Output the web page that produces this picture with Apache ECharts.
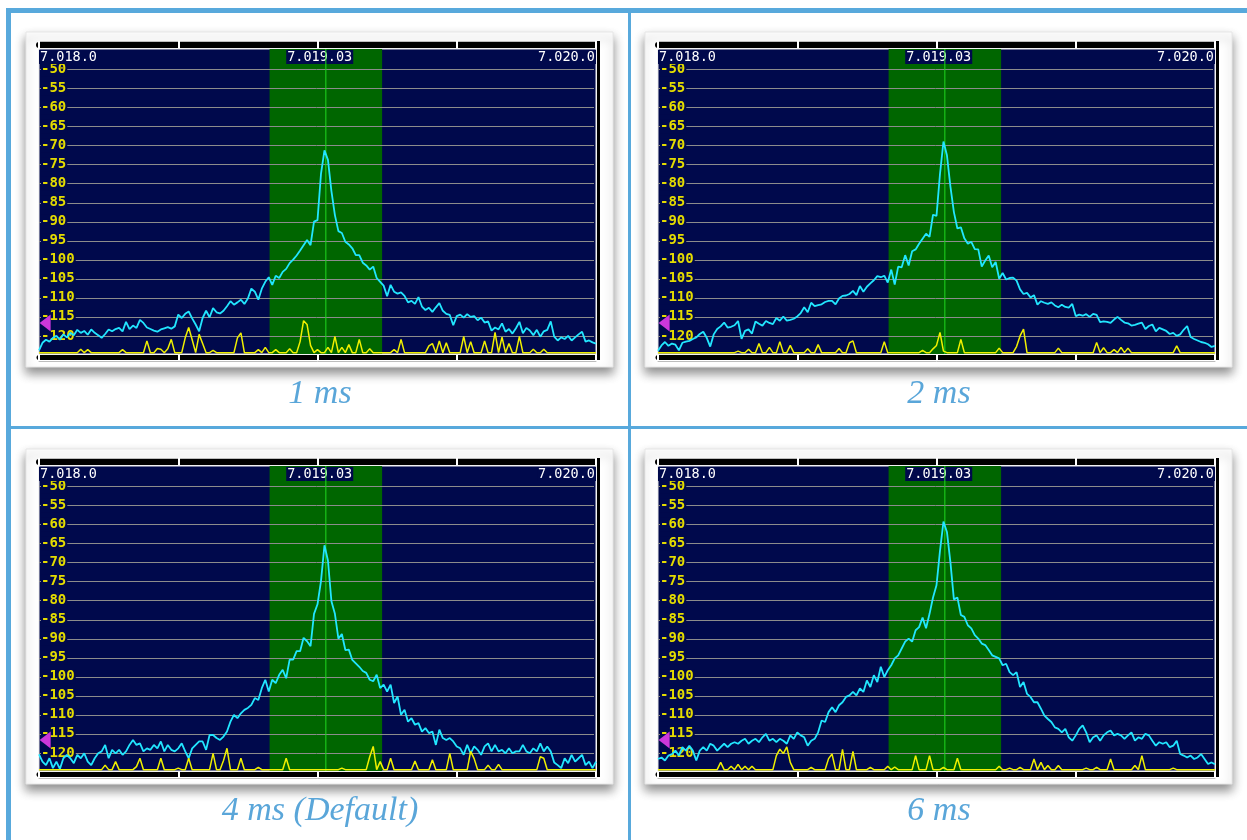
<!DOCTYPE html>
<html><head><meta charset="utf-8">
<script src="https://cdn.jsdelivr.net/npm/echarts@6/dist/echarts.min.js"></script>
<style>html,body{margin:0;padding:0;background:#fff;}#c{width:1247px;height:840px;}</style>
</head><body><div id="c"></div>
<script>
// ---------- data ----------
const B = -124.4;               // yellow trace floor (dBm)
const binHz = 12.5;             // spacing of the spectrum bins (Hz above 7.018.0)
const freqLabels = ['7.018.0', '7.019.03', '7.020.0'];
const freqLabelHz = [0, 1008, 2000];
const tickHz = [0, 500, 1000, 1500, 2000];
const yTicks = [-50, -55, -60, -65, -70, -75, -80, -85, -90, -95, -100, -105, -110, -115, -120];
const yMin = -124.75, yMax = -44.7;
const passbandHz = [828, 1232];
const centerHz = 1030;
const thresholdDb = -116.6;
const markerHz = 22;
const captions = ['1 ms', '2 ms', '4 ms (Default)', '6 ms'];

const cyan1ms = [
-123.8,-121.8,-121,-121.5,-120.5,-120,-121,-119.6,-120.4,-119.2,
-119.8,-118.4,-119.2,-118.7,-119.7,-118.3,-119.2,-119.8,-120.5,-119.5,
-118.3,-118.8,-118.2,-117.9,-118.8,-116.3,-118.2,-117.3,-117.9,-115.8,
-116.6,-117.8,-118.2,-118.6,-118.9,-118.3,-118,-117.7,-118.1,-117.5,
-114.4,-115.3,-114.2,-113.6,-115.4,-117,-118.8,-115.3,-113.4,-115.1,
-112.7,-113.8,-114.1,-113.4,-112.2,-110.9,-111.8,-111.2,-110.5,-111.6,
-110.2,-107.6,-108.4,-110.5,-107.6,-105.8,-104.6,-106.6,-104.2,-104.8,
-103.2,-102.4,-100.9,-100,-98.9,-97.6,-96.2,-94.8,-96.2,-90,
-89.6,-77.5,-71.3,-73.8,-82,-88.3,-92.5,-93,-95.3,-96,
-97,-98.8,-98.8,-100.8,-101.5,-102.6,-101.8,-104.8,-105.8,-106.8,
-109.6,-106.6,-108.4,-108.9,-108.6,-109.5,-111.2,-110.8,-111.6,-109.8,
-112.3,-113.2,-112.6,-113.7,-112.5,-111.4,-113.4,-114.2,-114.5,-117.2,
-114.8,-114.4,-115.2,-114.3,-115,-114.8,-115.9,-115.2,-116.5,-116.2,
-118.6,-117.8,-118.3,-116.7,-118.9,-118.2,-119.4,-118,-116.3,-119.3,
-117.9,-118.6,-119.8,-118.4,-120.2,-118.8,-118.4,-116.2,-120.2,-121.2,
-120.4,-120.8,-120,-121.2,-120.4,-119.6,-118.9,-121.5,-121.2,-121.7,
-122];
const yellow1ms = [
B,B,B,B,B,B,B,B,B,B,
B,B,-123.5,B,-123.6,B,B,B,B,B,
B,B,B,B,-123.6,B,B,B,B,B,
B,-121.3,B,B,-123.3,-123.5,B,-123.4,-120.9,B,
B,B,-120.5,-117.8,-121,B,-119.6,-122,B,B,
-123.8,B,B,B,B,B,B,-120.5,-119.2,B,
B,B,B,-123.6,B,-123,B,B,-123.6,B,
B,B,-123.4,B,B,-121.5,-116,-117,-122.5,B,
-123.6,B,B,-123,B,-120.1,B,-123,B,-122.3,
B,B,-120.9,B,B,-123.4,B,B,B,B,
B,B,-123.6,B,-120.9,B,B,B,B,B,
B,B,-122.6,-122,B,-121.3,B,-121.8,B,B,
B,B,-120.1,B,-121.5,B,B,B,-121.3,B,
B,-119.1,B,-120.3,B,-122,B,B,-120.1,B,
B,B,-123.5,B,B,-123.5,B,B,B,B,
B,B,B,B,B,B,B,B,B,B,
B];

const cyan2ms = [
-123.9,-122.5,-121.6,-122.6,-122,-122.3,-123.8,-121.8,-121.5,-121.3,
-120.8,-120.4,-119.5,-118.9,-120.5,-122.8,-119.6,-118.2,-117.5,-116.5,
-117.8,-117.6,-117.2,-116.1,-120.8,-118.7,-118.3,-119.4,-116.2,-116.8,
-117.3,-116.1,-116.6,-116.9,-115.3,-116,-114.9,-116,-115.8,-115.5,
-114.9,-114,-112.5,-113.8,-111.3,-112.2,-111.9,-111.7,-111.1,-110.8,
-110.8,-111.7,-110.2,-109.5,-109.4,-109,-108.2,-109.3,-106.9,-108.4,
-107.1,-106.2,-105.4,-104.3,-104.6,-104.2,-106,-102.6,-106.5,-101.8,
-102,-98.8,-101.5,-97.8,-97.3,-95.8,-94.5,-93.2,-94,-88.2,
-88.5,-77.5,-69,-72.6,-80.8,-87.5,-91.8,-91.5,-94.4,-95.8,
-95.3,-97.2,-97.3,-101.8,-100.2,-98.9,-102,-100.6,-105,-103.5,
-105.2,-104.8,-104.7,-105.5,-107.8,-109,-108.7,-109.9,-109.3,-111.8,
-110.9,-111.3,-111.6,-111.2,-112,-112.5,-111.8,-112.4,-112.6,-111.6,
-114.8,-114.4,-114.7,-114.3,-115,-114.2,-114.5,-116.4,-116.2,-116.3,
-116.6,-115.7,-115,-115.8,-116.5,-116.7,-117.3,-117.1,-116.8,-116.5,
-118.2,-117.4,-117,-118.8,-117.9,-118.3,-118.7,-119.5,-119.2,-120,
-119.6,-118.4,-117.4,-120.3,-120.8,-121.2,-121.6,-121.8,-122.2,-122.9,
-122.6];
const yellow2ms = [
B,B,B,B,B,B,B,B,B,B,
B,B,B,B,B,B,B,B,B,B,
B,B,B,-124,B,B,-123.5,B,B,-122,
B,B,-123,B,B,-121.5,B,B,-122.5,B,
B,B,B,-123.4,B,B,-122.3,B,B,B,
B,B,-123.3,B,B,-121.8,-121.3,B,B,B,
B,B,B,B,B,-121.5,B,B,B,B,
B,B,B,B,B,B,-123.8,B,B,-123.4,
-122.5,-119.1,-124,B,B,B,B,-120.9,B,B,
B,B,B,B,B,B,B,B,-123.2,B,
B,B,B,-122.8,-120,-118.2,B,B,B,B,
B,B,B,B,B,-123.2,B,B,B,B,
B,B,B,B,B,B,-121.7,B,-123.1,B,
B,-123.6,B,-123,B,-123.2,B,B,B,B,
B,B,B,B,B,B,B,B,B,-122.6,
B,B,B,B,B,B,B,B,B,B,
B];

const cyan4ms = [
-120.4,-122.3,-123.2,-121.4,-124,-122.3,-124.2,-121.4,-120.5,-121.4,
-122.7,-120.5,-121.4,-120.1,-122.3,-123.2,-121.4,-120.1,-119.6,-117.9,
-121.4,-119.2,-120.1,-119.2,-120.5,-119.6,-117.9,-116.6,-117.9,-117.5,
-119.6,-118.8,-119.2,-117.9,-118.8,-117,-119.6,-117.9,-119.2,-119.6,
-118.8,-117.5,-119.6,-121.4,-118.8,-117.9,-117,-117,-119.2,-115.3,
-115.3,-116.1,-116.6,-115.7,-114.4,-111.8,-110,-110.9,-109.6,-108.7,
-108.2,-107.4,-105.6,-106.1,-103,-100.8,-103.9,-100.8,-101.7,-99.5,
-98.2,-100.4,-95.5,-95.5,-93.3,-93.3,-89.8,-90.7,-92,-83.5,
-81,-74.9,-65.5,-69.5,-80.2,-83.5,-90,-88.8,-93,-92.9,
-95.6,-96.5,-97.4,-98.5,-99,-100.8,-101.2,-99.5,-103,-102.1,
-103.9,-102.1,-106.9,-105.2,-110,-108.7,-111.8,-110.9,-112.6,-112.2,
-114.4,-113.5,-114.8,-114.4,-117.9,-113.9,-116.1,-116.6,-116.1,-117,
-118.3,-118.8,-120.5,-117.9,-120.1,-118.3,-119.2,-120.5,-118.3,-117.5,
-119.6,-117.9,-119.6,-119.2,-120.1,-118.8,-120.1,-119.6,-119.6,-117.9,
-119.6,-120.1,-118.8,-119.6,-117.5,-119.6,-118.3,-119.6,-122.5,-123.2,
-124,-121.4,-122.7,-120.5,-122.3,-121.4,-120.5,-123.2,-122.3,-124,
-122.3];
const yellow4ms = [
B,B,B,B,B,B,B,B,B,B,
B,B,B,B,B,B,B,B,B,-123.2,
B,B,-122.3,B,B,B,B,B,-123.6,-121.4,
B,B,B,B,B,-121.4,B,B,B,B,
-124,B,B,-121.4,B,B,B,B,B,B,
-120.1,B,B,-122,-118.8,B,B,B,-121.4,B,
B,B,B,-123.8,B,B,B,B,B,B,
B,-121.4,B,B,B,B,B,B,B,B,
B,B,B,B,B,B,B,-124,B,B,
B,B,B,B,B,-121,-118.3,B,-122.3,B,
B,-121.4,B,B,B,B,B,B,-122.1,B,
B,B,B,-121.8,B,B,B,B,-120.1,B,
B,B,B,B,-119.6,-121.5,B,B,B,-123.2,
B,B,-123,B,B,B,B,B,B,B,
B,B,B,B,-121,-121.4,B,B,B,B,
B,B,B,B,B,B,B,B,B,B,
B];

const cyan6ms = [
-121.6,-121.2,-122,-120.7,-120.3,-119.4,-120.7,-118.5,-119.4,-118.1,
-119.4,-122,-119.4,-118.5,-119.4,-117.6,-118.1,-119.4,-118.5,-117.6,
-118.5,-117.6,-117.2,-117.6,-116.8,-116.3,-117.6,-116.8,-116.3,-117.2,
-115.9,-115,-116.8,-116.3,-117.2,-116.3,-116.8,-117.6,-115.4,-116.3,
-114.6,-115.4,-115.9,-118.1,-116.8,-116.3,-114.6,-111.5,-111.9,-109.3,
-108,-109.3,-107.5,-106.7,-105.3,-104.9,-104,-104.9,-103.1,-104,
-101,-102.7,-99.6,-101.4,-97.4,-100.1,-98.3,-97,-95.2,-94.4,
-92.6,-90.8,-90,-90.8,-87.8,-87,-84.5,-87.3,-83.5,-79.2,
-76,-67,-59.3,-62,-70,-79.7,-79.2,-83.8,-84.3,-86.5,
-87.3,-89.1,-90,-91.3,-91.7,-93,-94.4,-94.8,-95.2,-97,
-96.6,-98.8,-99.6,-98.8,-102.7,-101.4,-104.5,-105.3,-106.7,-106.7,
-108.4,-110.2,-111.1,-111.9,-113.3,-113.7,-114.6,-113.7,-115.9,-116.8,
-115.4,-113.7,-112.8,-114.6,-117.2,-115.9,-115.4,-116.8,-115.4,-114.6,
-114.1,-115.4,-115,-115.4,-116.3,-115.4,-114.6,-116.8,-115.9,-116.3,
-115,-115.4,-116.8,-118.1,-117.2,-117.6,-117.2,-118.5,-118.1,-116.8,
-120.3,-120.7,-121.2,-120.7,-121.6,-121.2,-120.3,-121.6,-122.9,-122.5,
-123];
const yellow6ms = [
B,B,B,B,B,B,B,B,B,B,
B,B,B,B,B,B,B,B,-122.5,B,
B,-123.5,B,-123,B,-123.5,B,-123.5,B,B,
B,B,B,B,-120.7,-119,-120.2,-118.4,-122.5,B,
B,B,B,B,-123.8,B,B,B,B,-121.5,
-120.3,B,B,-119.1,B,B,-119.6,B,B,B,
B,-123.8,B,B,B,B,-123.5,B,-123.7,B,
B,B,B,B,-120.7,B,B,B,-120.7,B,
B,B,-123.8,B,B,B,-121.4,B,B,B,
B,B,B,B,B,B,B,B,-123.5,B,
B,-124,B,B,-123.8,B,B,B,-121.6,B,
-122.5,B,-123.3,B,B,-123.3,B,B,B,B,
B,B,B,-124,B,B,-123.8,B,B,B,
-121.6,B,B,B,B,B,B,-123.3,B,-120.7,
B,B,B,B,B,B,B,B,-124,B,
B,B,B,B,B,B,B,B,B,B,
B];

const cyanTraces = [cyan1ms, cyan2ms, cyan4ms, cyan6ms];
const yellowTraces = [yellow1ms, yellow2ms, yellow4ms, yellow6ms];

// ---------- layout / style ----------
const panelLeft = [39, 658, 39, 658];
const panelTop = [49, 49, 466, 466];
const plotW = 557, plotH = 305;
const NAVY = '#00094c', BLUE = '#58a9dc';
const MONO = '"DejaVu Sans Mono", monospace';

const grid = [], xAxis = [], yAxis = [], series = [], graphic = [];

graphic.push(
  {type:'rect', z:-30, shape:{x:6, y:8, width:1241, height:5}, style:{fill:BLUE}},
  {type:'rect', z:-30, shape:{x:6, y:8, width:5, height:832}, style:{fill:BLUE}},
  {type:'rect', z:-30, shape:{x:628, y:8, width:3, height:832}, style:{fill:BLUE}},
  {type:'rect', z:-30, shape:{x:6, y:426, width:1241, height:3}, style:{fill:BLUE}}
);

for (let p = 0; p < 4; p++) {
  const L = panelLeft[p], T = panelTop[p];
  graphic.push({type:'rect', z:-25, shape:{x:L-13, y:T-17, width:587, height:335},
    style:{fill:'#fff', stroke:'#e6e6e6', lineWidth:1, shadowBlur:10, shadowOffsetY:6, shadowColor:'rgba(0,0,0,0.45)'}});
  graphic.push({type:'rect', z:-9, shape:{x:L+plotW+1, y:T-8, width:3, height:plotH+14}, style:{fill:'#000'}});
  graphic.push({type:'text', z:10, x:L+281, y:T+345,
    style:{text:captions[p], fill:'#5aa6d9', font:'italic 34px "Liberation Serif", serif', textAlign:'center', textVerticalAlign:'middle'}});

  grid.push({left:L, top:T, width:plotW, height:plotH, show:true, backgroundColor:NAVY,
    borderColor:'#e8e8e8', borderWidth:1, z:-10});

  const base = {gridIndex:p, type:'value', min:0, max:2000, splitLine:{show:false},
    axisLabel:{show:false}, axisTick:{show:false}};
  const xi = xAxis.length;
  xAxis.push(
    Object.assign({}, base, {position:'bottom', axisLine:{show:false}}),
    Object.assign({}, base, {position:'bottom', offset:3, axisLine:{show:true, lineStyle:{color:'#000', width:5}}}),
    Object.assign({}, base, {position:'bottom', offset:7, axisLine:{show:true, lineStyle:{color:'#bdbdbd', width:1}},
      axisTick:{show:true, inside:true, length:6, customValues:tickHz, lineStyle:{color:'#fff', width:2}}}),
    Object.assign({}, base, {position:'top', offset:4, axisLine:{show:true, lineStyle:{color:'#000', width:6}}}),
    Object.assign({}, base, {position:'top', offset:8, axisLine:{show:true, lineStyle:{color:'#bdbdbd', width:1}},
      axisTick:{show:true, inside:true, length:7, customValues:tickHz, lineStyle:{color:'#fff', width:2}},
      axisLabel:{show:true, inside:true, margin:9, customValues:freqLabelHz,
        formatter:(v)=>freqLabels[freqLabelHz.indexOf(v)],
        color:'#fff', fontFamily:MONO, fontSize:13.5, backgroundColor:NAVY, padding:[0,1],
        alignMinLabel:'left', alignMaxLabel:'right'}})
  );
  const yi = yAxis.length;
  yAxis.push(
    {gridIndex:p, type:'value', min:yMin, max:yMax, position:'left',
     axisLine:{show:false}, axisTick:{show:false, customValues:yTicks},
     axisLabel:{inside:true, margin:2, customValues:yTicks, color:'#e4dc00', fontFamily:MONO, fontSize:14, fontWeight:'bold',
       backgroundColor:NAVY, padding:[0,1,0,0], formatter:(v)=>String(v)},
     splitLine:{show:false}}
  );

  series.push({type:'line', xAxisIndex:xi, yAxisIndex:yi, z:-5, silent:true, symbol:'none',
    data:[[passbandHz[0], yMax], [passbandHz[1], yMax]],
    lineStyle:{width:0}, areaStyle:{color:'#006600', opacity:1, origin:'start'}});
  series.push({type:'custom', xAxisIndex:xi, yAxisIndex:yi, z:-1, silent:true,
    data:yTicks.map(v=>[v]), encode:{y:0},
    renderItem:(params, api)=>{
      const v = api.value(0);
      const a = api.coord([0, v]), b = api.coord([2000, v]);
      const y = Math.round(a[1]) + 0.5;
      return {type:'line', shape:{x1:a[0], y1:y, x2:b[0]-2, y2:y}, style:{stroke:'#8c8c8c', lineWidth:1}};
    }});
  series.push({type:'line', xAxisIndex:xi, yAxisIndex:yi, z:1, silent:true, symbol:'none',
    data:[[centerHz, yMin], [centerHz, yMax]], lineStyle:{color:'#1fd81f', width:1}});
  series.push({type:'line', xAxisIndex:xi, yAxisIndex:yi, z:3, silent:true, symbol:'none',
    data:cyanTraces[p].map((v,i)=>[i*binHz, v]), lineStyle:{color:'#22e6ff', width:1.8}});
  series.push({type:'line', xAxisIndex:xi, yAxisIndex:yi, z:4, silent:true, symbol:'none',
    data:yellowTraces[p].map((v,i)=>[i*binHz, v]), lineStyle:{color:'#f0f000', width:1.5}});
  series.push({type:'scatter', xAxisIndex:xi, yAxisIndex:yi, z:6, silent:true,
    data:[[markerHz, thresholdDb]], symbol:'triangle', symbolRotate:90, symbolSize:[17,11],
    itemStyle:{color:'#ff44ff'}});
}

const chart = echarts.init(document.getElementById('c'), null, {renderer:'canvas'});
chart.setOption({animation:false, backgroundColor:'#fff', grid, xAxis, yAxis, series, graphic});
</script></body></html>
